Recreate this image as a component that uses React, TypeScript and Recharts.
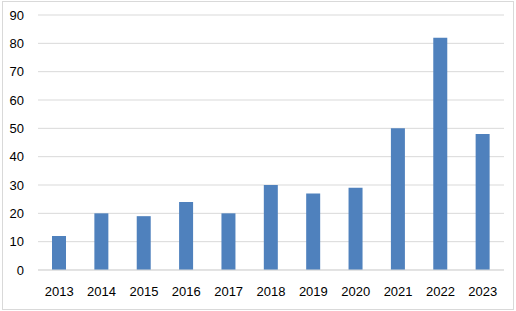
import React from 'react';
import { BarChart, Bar, XAxis, YAxis, CartesianGrid } from 'recharts';

const years = ['2013', '2014', '2015', '2016', '2017', '2018', '2019', '2020', '2021', '2022', '2023'];
const counts = [12, 20, 19, 24, 20, 30, 27, 29, 50, 82, 48];
const yTicks = [0, 10, 20, 30, 40, 50, 60, 70, 80, 90];

const data = years.map((year, i) => ({ year, count: counts[i] }));

const tickStyle = { fill: '#000', fontSize: 13, fontFamily: 'Liberation Sans, Arial, sans-serif' };

export default function App() {
  return (
    <div style={{ position: 'absolute', left: 0, top: 0, width: 516, height: 311, background: '#fff' }}>
      <div
        style={{
          position: 'absolute',
          left: 2,
          top: 1,
          width: 510,
          height: 307,
          border: '1px solid #d9d9d9',
        }}
      />
      <BarChart
        width={516}
        height={311}
        data={data}
        margin={{ top: 15, right: 12, bottom: 11, left: 0 }}
        style={{ position: 'absolute', left: 0, top: 0 }}
      >
        <CartesianGrid vertical={false} stroke="#d9d9d9" />
        <XAxis
          dataKey="year"
          height={30}
          axisLine={{ stroke: '#d9d9d9' }}
          tickLine={false}
          tickSize={0}
          tickMargin={17}
          tick={tickStyle}
          interval={0}
        />
        <YAxis
          width={38}
          domain={[0, 90]}
          ticks={yTicks}
          axisLine={false}
          tickLine={false}
          tickSize={0}
          tickMargin={14}
          tick={tickStyle}
          interval={0}
        />
        <Bar dataKey="count" fill="#4f81bd" barSize={14} isAnimationActive={false} />
      </BarChart>
    </div>
  );
}
